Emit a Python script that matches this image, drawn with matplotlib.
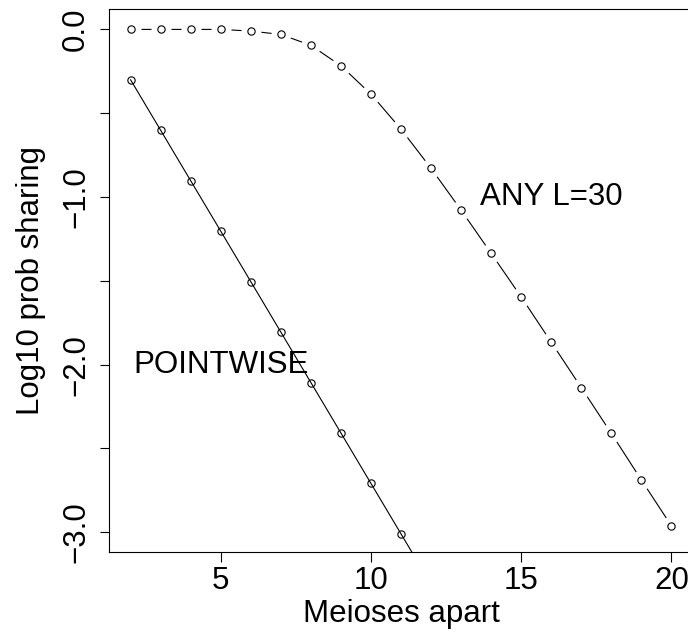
import matplotlib
matplotlib.use("Agg")
import matplotlib.pyplot as plt

# meioses apart (x) and log10 probability of sharing (y)
meioses = [2, 3, 4, 5, 6, 7, 8, 9, 10, 11, 12, 13, 14, 15, 16, 17, 18, 19, 20]
any_l30 = [0.0, 0.0, 0.0, 0.0, -0.01, -0.03, -0.095, -0.217, -0.386, -0.595,
           -0.829, -1.078, -1.336, -1.596, -1.866, -2.137, -2.41, -2.688, -2.962]
pointwise_x = [2, 3, 4, 5, 6, 7, 8, 9, 10, 11, 12]
pointwise = [-0.301, -0.602, -0.903, -1.204, -1.505, -1.806, -2.107, -2.408,
             -2.709, -3.010, -3.311]

yticks = [0.0, -0.5, -1.0, -1.5, -2.0, -2.5, -3.0]
ytick_labels = ["0.0", "", "\u22121.0", "", "\u22122.0", "", "\u22123.0"]
xticks = [5, 10, 15, 20]

plt.rcParams["font.family"] = ["Liberation Sans", "DejaVu Sans"]
fs = 22.5
px = 0.72  # points per pixel at dpi 100

fig = plt.figure(figsize=(6.88, 6.39), dpi=100)
ax = fig.add_axes([109 / 688, 86.7 / 639, 584 / 688, 543 / 639])

ax.set_xlim(1.28, 20.72)
ax.set_ylim(-3.12, 0.12)

# pointwise: line runs through the circles
ax.plot(pointwise_x, pointwise, color="black", lw=0.8, zorder=2)
ax.plot(pointwise_x, pointwise, ls="none", marker="o", ms=7.3 * px, mfc="none",
        mec="black", mew=0.8, zorder=4)

# ANY L=30: R type="b" style, line broken around each point
ax.plot(meioses, any_l30, color="black", lw=0.8, zorder=2)
ax.plot(meioses, any_l30, ls="none", marker="o", ms=20 * px, mfc="white",
        mec="white", mew=0, zorder=3)
ax.plot(meioses, any_l30, ls="none", marker="o", ms=7.3 * px, mfc="none",
        mec="black", mew=0.8, zorder=4)

ax.text(16, -1.0, "ANY L=30", fontsize=fs, ha="center", va="center", zorder=5)
ax.text(5, -2.0, "POINTWISE", fontsize=fs, ha="center", va="center", zorder=5)

ax.set_xticks(xticks)
ax.set_xticklabels([str(v) for v in xticks], fontsize=fs)
ax.set_yticks(yticks)
ax.set_yticklabels(ytick_labels, fontsize=fs, rotation=90, va="center")
ax.tick_params(axis="x", length=9.5 * px, width=0.8, pad=3)
ax.tick_params(axis="y", length=9.5 * px, width=0.8, pad=6)
for s in ax.spines.values():
    s.set_linewidth(0.8)

ax.set_xlabel("Meioses apart", fontsize=fs)
ax.set_ylabel("Log10 prob sharing", fontsize=fs)
ax.xaxis.set_label_coords(0.5, -0.086)
ax.yaxis.set_label_coords(-0.108, 0.5)

fig.savefig("out.png", dpi=100)
